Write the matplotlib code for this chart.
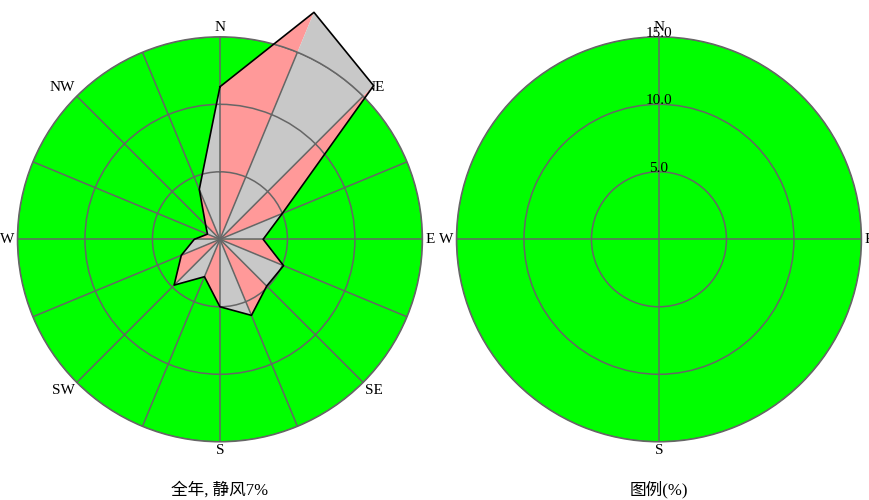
import numpy as np
import matplotlib
matplotlib.use('Agg')
import matplotlib.pyplot as plt

# 字体：西文用衬线体，中文回退到思源黑体
plt.rcParams['font.family'] = ['Liberation Serif', 'Noto Sans CJK SC']

# 16方位风频(%)
directions = ['N', 'NNE', 'NE', 'ENE', 'E', 'ESE', 'SE', 'SSE',
              'S', 'SSW', 'SW', 'WSW', 'W', 'WNW', 'NW', 'NNW']
freq = [11.3, 18.2, 16.1, 5.0, 3.2, 5.1, 4.9, 6.1,
        5.0, 3.0, 4.8, 3.1, 1.9, 1.0, 1.5, 4.0]
calm = 7

compass = ['N', 'NE', 'E', 'SE', 'S', 'SW', 'W', 'NW']
legend_dirs = ['N', 'E', 'S', 'W']
rings = [5, 10, 15]

green = '#00ff00'
pink = '#ff9999'
grey = '#c8c8c8'
grid_c = '#666666'

# 标签对齐方式
align = {
    'N': ('center', 'bottom'), 'NE': ('left', 'bottom'),
    'E': ('left', 'center'), 'SE': ('left', 'top'),
    'S': ('center', 'top'), 'SW': ('right', 'top'),
    'W': ('right', 'center'), 'NW': ('right', 'bottom'),
}
angle = {d: np.deg2rad(45 * i) for i, d in enumerate(compass)}


def setup(ax, spokes, labels):
    ax.set_theta_zero_location('N')
    ax.set_theta_direction(-1)
    ax.set_facecolor(green)
    ax.set_ylim(0, rings[-1])
    ax.set_yticks(rings)
    ax.set_yticklabels([])
    ax.set_thetagrids(spokes, labels=[''] * len(spokes))
    ax.grid(True, color=grid_c, linewidth=1.1)
    ax.spines['polar'].set_color(grid_c)
    ax.spines['polar'].set_linewidth(1.1)
    ax.set_axisbelow(False)
    for lab in labels:
        ha, va = align[lab]
        ax.text(angle[lab], rings[-1] + 0.2, lab, ha=ha, va=va,
                fontsize=11, zorder=0.5)


fig = plt.figure(figsize=(8.69, 5), dpi=100)

# 左：全年风玫瑰
ax1 = fig.add_axes([0.0201, 0.1164, 0.466, 0.81], projection='polar')
setup(ax1, np.arange(0, 360, 22.5), compass)

theta = np.deg2rad(np.arange(16) * 22.5)
for i in range(16):
    j = (i + 1) % 16
    ax1.fill([0, theta[i], theta[j]], [0, freq[i], freq[j]],
             color=pink if i % 2 == 0 else grey, linewidth=0,
             clip_on=False, zorder=1)
ax1.plot(np.append(theta, theta[0]), np.append(freq, freq[0]),
         color='black', linewidth=1.2, clip_on=False, zorder=3)

# 右：图例
ax2 = fig.add_axes([0.5253, 0.1164, 0.466, 0.81], projection='polar')
setup(ax2, [0, 90, 180, 270], legend_dirs)
for r in rings:
    ax2.text(0, r, f'{r:.1f}', ha='center', va='baseline', fontsize=11)

fig.text(0.2532, 0.02, f'全年, 静风{calm}%', ha='center', va='center', fontsize=12)
fig.text(0.7583, 0.02, '图例(%)', ha='center', va='center', fontsize=12)

fig.savefig('out.png', dpi=100)
